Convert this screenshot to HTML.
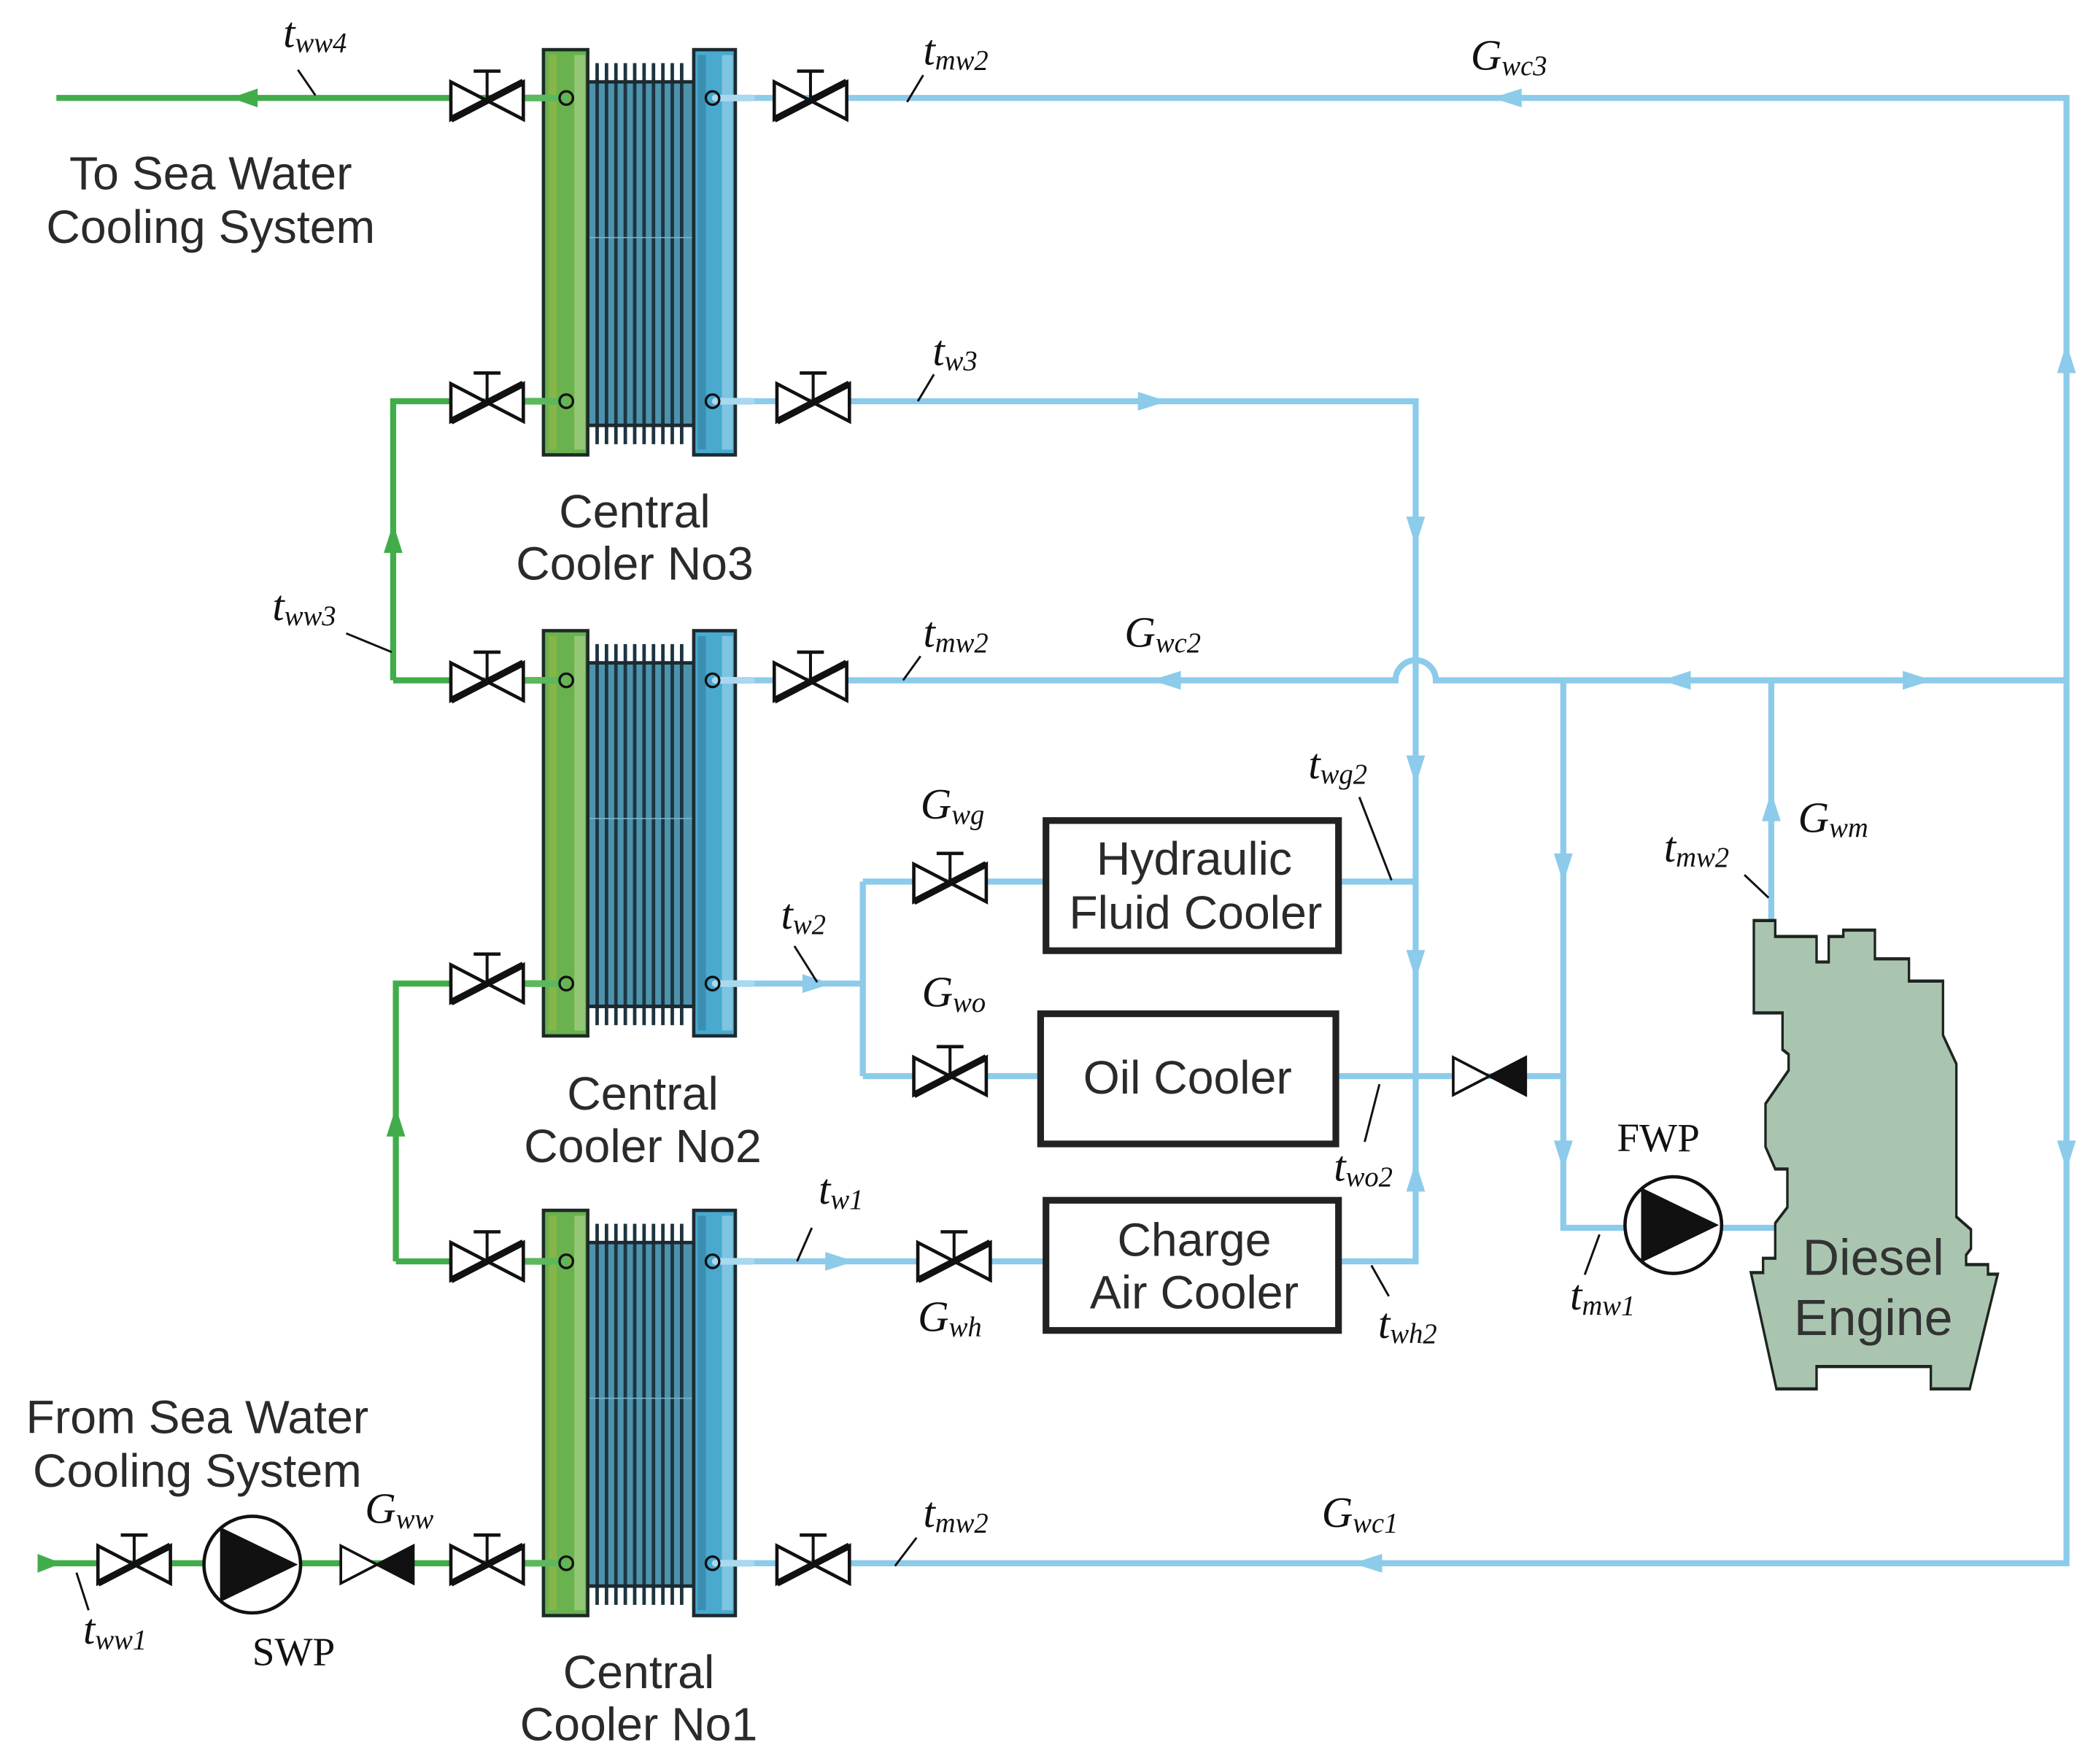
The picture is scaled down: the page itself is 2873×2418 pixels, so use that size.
<!DOCTYPE html>
<html><head><meta charset="utf-8"><style>
html,body{margin:0;padding:0;background:#fff;}
svg{display:block;}
.lab{font-family:"Liberation Serif",serif;font-style:italic;font-size:32px;fill:#111;}
.sub{font-size:21px;}
.sans{font-family:"Liberation Sans",sans-serif;font-size:35px;fill:#2a2a2a;text-anchor:middle;}
.ser{font-family:"Liberation Serif",serif;font-size:30px;fill:#111;}
.bl{stroke:#8ccbea;stroke-width:4.5;fill:none;}
.gr{stroke:#41ad4a;stroke-width:4.5;fill:none;}
.ld{stroke:#111;stroke-width:1.6;}
</style></head><body>
<svg width="2873" height="2418" viewBox="0 0 1562 1314.6" xmlns="http://www.w3.org/2000/svg">
<defs>
<g id="v">
 <path d="M-27,-14 L-27,14 L0,0 Z M27,-14 L27,14 L0,0 Z" fill="#fff" stroke="#111" stroke-width="2.5" stroke-linejoin="miter"/>
 <line x1="-27" y1="14" x2="27" y2="-14" stroke="#111" stroke-width="5"/>
 <line x1="0" y1="0" x2="0" y2="-22" stroke="#111" stroke-width="2.2"/>
 <line x1="-10" y1="-22" x2="10" y2="-22" stroke="#111" stroke-width="2.5"/>
</g>
<g id="cv">
 <path d="M-27,-14 L-27,14 L0,0 Z" fill="#fff" stroke="#111" stroke-width="2"/>
 <path d="M27,-14 L27,14 L0,0 Z" fill="#111" stroke="#111" stroke-width="2"/>
</g>
<g id="pump">
 <circle cx="0" cy="0" r="36" fill="#fff" stroke="#111" stroke-width="2.5"/>
 <path d="M-24,-28 L34,0 L-24,28 Z" fill="#111"/>
</g>
<g id="cool">
 <rect x="438" y="24" width="79" height="256" fill="#4d93ad" stroke="#1c2a30" stroke-width="2.5"/>
 <g stroke="#1c3440" stroke-width="2.6">
  <line x1="445" y1="10" x2="445" y2="294"/><line x1="452" y1="10" x2="452" y2="294"/>
  <line x1="459" y1="10" x2="459" y2="294"/><line x1="466" y1="10" x2="466" y2="294"/>
  <line x1="473" y1="10" x2="473" y2="294"/><line x1="480" y1="10" x2="480" y2="294"/>
  <line x1="487" y1="10" x2="487" y2="294"/><line x1="494" y1="10" x2="494" y2="294"/>
  <line x1="501" y1="10" x2="501" y2="294"/><line x1="508" y1="10" x2="508" y2="294"/>
 </g>
 <rect x="438" y="24" width="79" height="256" fill="none" stroke="#1c2a30" stroke-width="2.5"/>
 <line x1="438" y1="140" x2="517" y2="140" stroke="#7bb7cc" stroke-width="0.8"/>
 <rect x="405" y="0" width="33" height="302" fill="#69b24e" stroke="#1c2a25" stroke-width="2.5"/>
 <rect x="409" y="4" width="6" height="294" fill="#86b54a"/>
 <rect x="428" y="4" width="8" height="294" fill="#93c776"/>
 <rect x="517" y="0" width="31" height="302" fill="#4aa9cf" stroke="#1c2a30" stroke-width="2.5"/>
 <rect x="520" y="4" width="6" height="294" fill="#3a8fb1"/>
 <rect x="538" y="4" width="8" height="294" fill="#7cc4e0"/>
</g>
<g id="portg"><circle cx="0" cy="0" r="5" fill="none" stroke="#111" stroke-width="1.8"/></g>
</defs>

<path class="gr" d="M42,73 L420,73"/>
<path class="gr" d="M293,507 L293,299 L420,299"/>
<path class="gr" d="M420,507 L293,507"/>
<path class="gr" d="M295,940 L295,733 L420,733"/>
<path class="gr" d="M295,940 L420,940"/>
<path class="gr" d="M40,1165 L420,1165"/>
<path d="M172,73 L192,66 L192,80 Z" fill="#41ad4a"/>
<path d="M293,390 L286,412 L300,412 Z" fill="#41ad4a"/>
<path d="M295,825 L288,847 L302,847 Z" fill="#41ad4a"/>
<path d="M28,1158 L46,1165 L28,1172 Z" fill="#41ad4a"/>

<path class="bl" d="M533,73 L1540,73 L1540,1165 L533,1165"/>
<path class="bl" d="M533,299 L1055,299 L1055,940 L1000,940"/>
<path class="bl" d="M533,507 L1040,507 A15,15 0 0 1 1070,507 L1540,507"/>
<path class="bl" d="M533,733 L643,733"/>
<path class="bl" d="M643,657 L643,802"/>
<path class="bl" d="M643,657 L777,657"/>
<path class="bl" d="M643,802 L773,802"/>
<path class="bl" d="M1000,657 L1055,657"/>
<path class="bl" d="M998,802 L1165,802"/>
<path class="bl" d="M533,940 L777,940"/>
<path class="bl" d="M1165,507 L1165,915 L1335,915"/>
<path class="bl" d="M1320,507 L1320,692"/>
<g fill="#8ccbea">
<path d="M1112,73 L1134,66 L1134,80 Z"/>
<path d="M1540,256 L1533,278 L1547,278 Z"/>
<path d="M1540,872 L1533,850 L1547,850 Z"/>
<path d="M870,299 L848,292 L848,306 Z"/>
<path d="M1055,407 L1048,385 L1062,385 Z"/>
<path d="M1055,585 L1048,563 L1062,563 Z"/>
<path d="M1055,730 L1048,708 L1062,708 Z"/>
<path d="M1055,866 L1048,888 L1062,888 Z"/>
<path d="M858,507 L880,500 L880,514 Z"/>
<path d="M1238,507 L1260,500 L1260,514 Z"/>
<path d="M1440,507 L1418,500 L1418,514 Z"/>
<path d="M1165,658 L1158,636 L1172,636 Z"/>
<path d="M1165,872 L1158,850 L1172,850 Z"/>
<path d="M1320,590 L1313,612 L1327,612 Z"/>
<path d="M620,733 L598,726 L598,740 Z"/>
<path d="M637,940 L615,933 L615,947 Z"/>
<path d="M1008,1165 L1030,1158 L1030,1172 Z"/>
</g>

<use href="#cool" transform="translate(0,37)"/>
<use href="#cool" transform="translate(0,470)"/>
<use href="#cool" transform="translate(0,902)"/>
<g stroke-width="5" stroke-linecap="round">
<line x1="392" y1="73" x2="420" y2="73" stroke="#5cb85c"/><line x1="533" y1="73" x2="560" y2="73" stroke="#a9d8ef"/>
<line x1="392" y1="299" x2="420" y2="299" stroke="#5cb85c"/><line x1="533" y1="299" x2="560" y2="299" stroke="#a9d8ef"/>
<line x1="392" y1="507" x2="420" y2="507" stroke="#5cb85c"/><line x1="533" y1="507" x2="560" y2="507" stroke="#a9d8ef"/>
<line x1="392" y1="733" x2="420" y2="733" stroke="#5cb85c"/><line x1="533" y1="733" x2="560" y2="733" stroke="#a9d8ef"/>
<line x1="392" y1="940" x2="420" y2="940" stroke="#5cb85c"/><line x1="533" y1="940" x2="560" y2="940" stroke="#a9d8ef"/>
<line x1="392" y1="1165" x2="420" y2="1165" stroke="#5cb85c"/><line x1="533" y1="1165" x2="560" y2="1165" stroke="#a9d8ef"/>
</g>
<use href="#portg" x="422" y="73"/><use href="#portg" x="531" y="73"/>
<use href="#portg" x="422" y="299"/><use href="#portg" x="531" y="299"/>
<use href="#portg" x="422" y="507"/><use href="#portg" x="531" y="507"/>
<use href="#portg" x="422" y="733"/><use href="#portg" x="531" y="733"/>
<use href="#portg" x="422" y="940"/><use href="#portg" x="531" y="940"/>
<use href="#portg" x="422" y="1165"/><use href="#portg" x="531" y="1165"/>

<use href="#v" x="363" y="75"/><use href="#v" x="604" y="75"/>
<use href="#v" x="363" y="300"/><use href="#v" x="606" y="300"/>
<use href="#v" x="363" y="508"/><use href="#v" x="604" y="508"/>
<use href="#v" x="363" y="733"/><use href="#v" x="708" y="658"/>
<use href="#v" x="708" y="802"/>
<use href="#v" x="363" y="940"/><use href="#v" x="711" y="940"/>
<use href="#v" x="100" y="1166"/><use href="#v" x="363" y="1166"/><use href="#v" x="606" y="1166"/>
<use href="#cv" x="281" y="1166"/>
<use href="#cv" x="1110" y="802"/>
<use href="#pump" x="188" y="1166"/>
<use href="#pump" x="1247" y="913"/>

<rect x="779.5" y="611.5" width="218" height="97" fill="#fff" stroke="#222" stroke-width="5"/>
<rect x="775.5" y="755.5" width="220" height="97" fill="#fff" stroke="#222" stroke-width="5"/>
<rect x="779.5" y="894.5" width="218" height="97" fill="#fff" stroke="#222" stroke-width="5"/>
<text class="sans" x="890" y="652">Hydraulic</text>
<text class="sans" x="891" y="692">Fluid Cooler</text>
<text class="sans" x="885" y="815">Oil Cooler</text>
<text class="sans" x="890" y="936">Charge</text>
<text class="sans" x="890" y="975">Air Cooler</text>

<!-- engine -->
<g transform="scale(0.54368) translate(2380,1240) scale(0.3333,0.4367)">
<path d="M72,50 L160,50 L160,100 L330,100 L330,180 L380,180 L380,100 L440,100 L440,80 L570,80 L570,170 L710,170 L710,240 L850,240 L850,410 L905,500 L905,980 L965,1020 L965,1080 L945,1100 L945,1130 L1035,1130 L1035,1160 L1075,1160 L960,1520 L800,1520 L800,1450 L330,1450 L330,1520 L165,1520 L60,1155 L110,1155 L110,1110 L160,1110 L160,1000 L210,950 L210,830 L160,830 L120,760 L120,625 L215,520 L215,470 L190,455 L190,340 L72,340 Z" fill="#a9c5b0" stroke="#1e2420" stroke-width="10" stroke-linejoin="miter"/>
</g>
<text x="1396" y="950" font-family="Liberation Sans, sans-serif" font-size="38" fill="#333" text-anchor="middle">Diesel</text>
<text x="1396" y="995" font-family="Liberation Sans, sans-serif" font-size="38" fill="#333" text-anchor="middle">Engine</text>

<text class="sans" x="157" y="141">To Sea Water</text>
<text class="sans" x="157" y="181">Cooling System</text>
<text class="sans" x="147" y="1068">From Sea Water</text>
<text class="sans" x="147" y="1108">Cooling System</text>
<text class="sans" x="473" y="393">Central</text>
<text class="sans" x="473" y="432">Cooler No3</text>
<text class="sans" x="479" y="827">Central</text>
<text class="sans" x="479" y="866">Cooler No2</text>
<text class="sans" x="476" y="1258">Central</text>
<text class="sans" x="476" y="1297">Cooler No1</text>
<text class="ser" x="1205" y="858">FWP</text>
<text class="ser" x="188" y="1241">SWP</text>

<text class="lab" x="211" y="35">t<tspan class="sub" dy="4">ww4</tspan></text>
<line class="ld" x1="222" y1="52" x2="235" y2="71"/>
<text class="lab" x="688" y="48">t<tspan class="sub" dy="4">mw2</tspan></text>
<line class="ld" x1="688" y1="56" x2="676" y2="76"/>
<text class="lab" x="1096" y="52">G<tspan class="sub" dy="4">wc3</tspan></text>
<text class="lab" x="695" y="272">t<tspan class="sub" dy="4">w3</tspan></text>
<line class="ld" x1="696" y1="279" x2="684" y2="299"/>
<text class="lab" x="203" y="462">t<tspan class="sub" dy="4">ww3</tspan></text>
<line class="ld" x1="258" y1="472" x2="292" y2="486"/>
<text class="lab" x="688" y="482">t<tspan class="sub" dy="4">mw2</tspan></text>
<line class="ld" x1="686" y1="489" x2="673" y2="507"/>
<text class="lab" x="838" y="482">G<tspan class="sub" dy="4">wc2</tspan></text>
<text class="lab" x="975" y="580">t<tspan class="sub" dy="4">wg2</tspan></text>
<line class="ld" x1="1013" y1="594" x2="1037" y2="656"/>
<text class="lab" x="686" y="610">G<tspan class="sub" dy="4">wg</tspan></text>
<text class="lab" x="1340" y="620">G<tspan class="sub" dy="4">wm</tspan></text>
<text class="lab" x="1240" y="642">t<tspan class="sub" dy="4">mw2</tspan></text>
<line class="ld" x1="1300" y1="652" x2="1318" y2="669"/>
<text class="lab" x="582" y="692">t<tspan class="sub" dy="4">w2</tspan></text>
<line class="ld" x1="592" y1="705" x2="609" y2="732"/>
<text class="lab" x="687" y="750">G<tspan class="sub" dy="4">wo</tspan></text>
<text class="lab" x="994" y="880">t<tspan class="sub" dy="4">wo2</tspan></text>
<line class="ld" x1="1017" y1="851" x2="1028" y2="808"/>
<text class="lab" x="610" y="897">t<tspan class="sub" dy="4">w1</tspan></text>
<line class="ld" x1="605" y1="915" x2="594" y2="940"/>
<text class="lab" x="684" y="992">G<tspan class="sub" dy="4">wh</tspan></text>
<text class="lab" x="1027" y="997">t<tspan class="sub" dy="4">wh2</tspan></text>
<line class="ld" x1="1022" y1="943" x2="1035" y2="966"/>
<text class="lab" x="1170" y="976">t<tspan class="sub" dy="4">mw1</tspan></text>
<line class="ld" x1="1181" y1="950" x2="1192" y2="920"/>
<text class="lab" x="272" y="1135">G<tspan class="sub" dy="4">ww</tspan></text>
<text class="lab" x="62" y="1225">t<tspan class="sub" dy="4">ww1</tspan></text>
<line class="ld" x1="57" y1="1172" x2="66" y2="1200"/>
<text class="lab" x="688" y="1138">t<tspan class="sub" dy="4">mw2</tspan></text>
<line class="ld" x1="683" y1="1146" x2="667" y2="1167"/>
<text class="lab" x="985" y="1138">G<tspan class="sub" dy="4">wc1</tspan></text>
</svg>
</body></html>
